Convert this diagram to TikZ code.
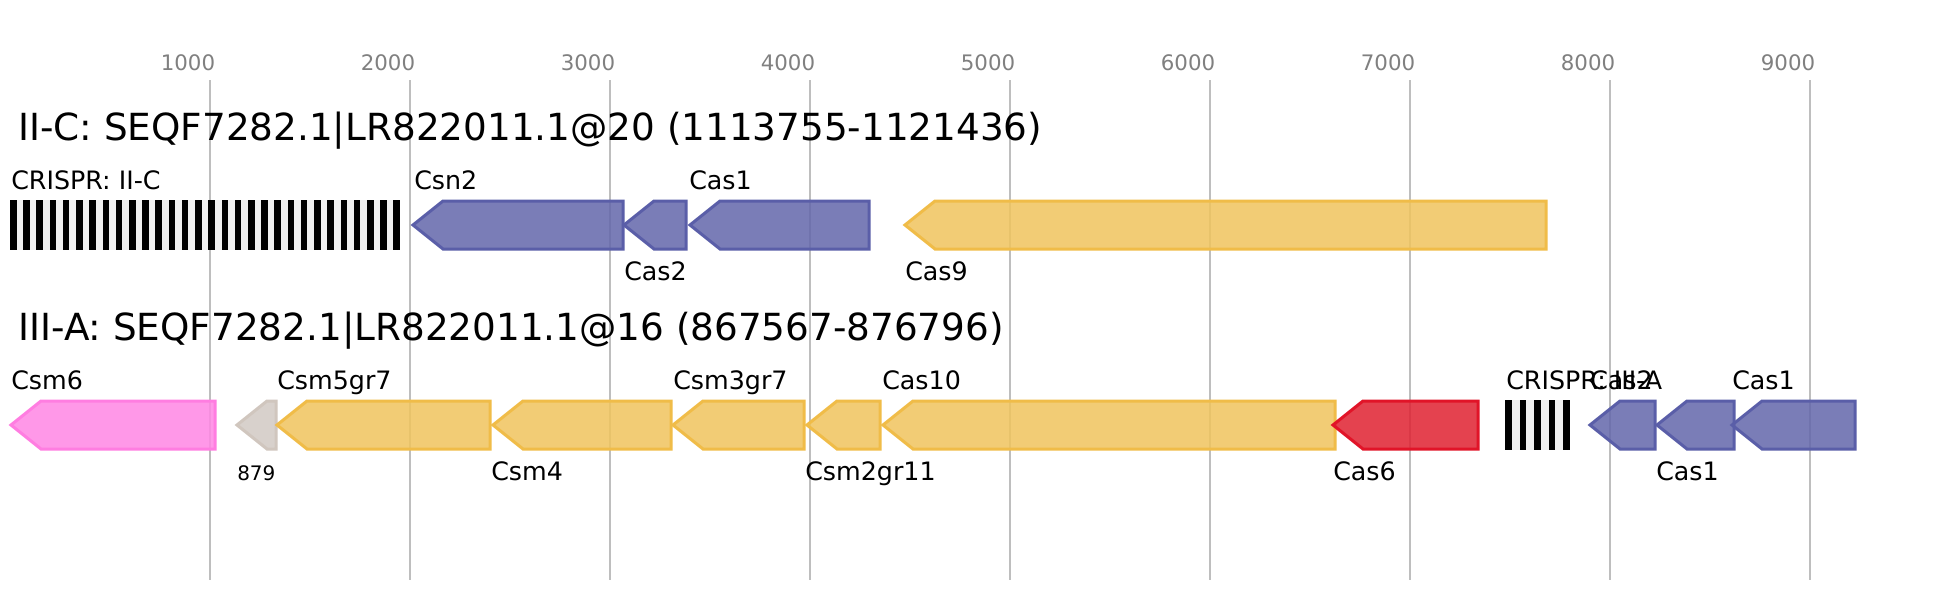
\documentclass[tikz,border=0pt]{standalone}
\usepackage{fontspec}
\setmainfont{DejaVu Sans}
\definecolor{gridc}{RGB}{190,190,190}
\definecolor{tickc}{RGB}{128,128,128}
\definecolor{bluef}{RGB}{99,103,171}
\definecolor{blued}{RGB}{90,94,168}
\definecolor{yellf}{RGB}{240,196,93}
\definecolor{yelld}{RGB}{240,188,72}
\definecolor{pinkf}{RGB}{255,135,228}
\definecolor{pinkd}{RGB}{255,125,225}
\definecolor{redf}{RGB}{224,33,49}
\definecolor{redd}{RGB}{225,20,40}
\definecolor{beigef}{RGB}{210,202,196}
\definecolor{beiged}{RGB}{208,198,190}
\definecolor{crbg}{RGB}{240,240,240}
\newcommand{\genearrow}[4]{%
  \draw[#4] (#1,#3) -- ({#1+30},{#3-24}) -- (#2,{#3-24}) -- (#2,{#3+24}) -- ({#1+30},{#3+24}) -- cycle;}
\begin{document}
\begin{tikzpicture}[x=0.75pt,y=-0.75pt,
  gridline/.style={draw=gridc,line width=1.5pt},
  ticklabel/.style={anchor=base,inner sep=0,text=tickc,font=\fontsize{16}{19}\selectfont},
  title/.style={anchor=base west,inner sep=0,font=\fontsize{28}{33}\selectfont},
  glabel/.style={anchor=base west,inner sep=0,font=\fontsize{19}{23}\selectfont},
  slabel/.style={anchor=base west,inner sep=0,font=\fontsize{15}{18}\selectfont},
  genebase/.style={line width=2.25pt,line join=miter,fill opacity=0.85},
  bluegene/.style={genebase,fill=bluef,draw=blued},
  yellgene/.style={genebase,fill=yellf,draw=yelld},
  pinkgene/.style={genebase,fill=pinkf,draw=pinkd},
  redgene/.style={genebase,fill=redf,draw=redd},
  beigegene/.style={genebase,fill=beigef,draw=beiged}]
\useasboundingbox (0,0) rectangle (1946,600);
\fill[white] (0,0) rectangle (1946,600);
% grid
\foreach \v/\lab in {1000/t1,2000/t2,3000/t3,4000/t4,5000/t5,6000/t6,7000/t7,8000/t8,9000/t9}{
  \draw[gridline] ({10+\v/5},80) -- ({10+\v/5},580);
  \node[ticklabel] (\lab) at ({10+\v/5-22},70) {\v};
}
% titles
\node[title] (title1) at (18,140) {II-C: SEQF7282.1|LR822011.1@20 (1113755-1121436)};
\node[title] (title2) at (18,340) {III-A: SEQF7282.1|LR822011.1@16 (867567-876796)};
% row 1
\fill[crbg] (10,200) rectangle (400,250);
\foreach \i in {0,...,29}{\fill[black] ({10+\i*13.22},200) rectangle ({16.6+\i*13.22},250);}
\genearrow{413}{623}{225}{bluegene}
\genearrow{624}{686}{225}{bluegene}
\genearrow{690}{869}{225}{bluegene}
\genearrow{905}{1546}{225}{yellgene}
\node[glabel] (l1) at (11,189) {CRISPR: II-C};
\node[glabel] (l2) at (414,189) {Csn2};
\node[glabel] (l3) at (624,280) {Cas2};
\node[glabel] (l4) at (689,189) {Cas1};
\node[glabel] (l5) at (905,280) {Cas9};
% row 2
\genearrow{11}{215}{425}{pinkgene}
\genearrow{237}{276}{425}{beigegene}
\genearrow{277}{490}{425}{yellgene}
\genearrow{493}{671}{425}{yellgene}
\genearrow{673}{804}{425}{yellgene}
\genearrow{807}{880}{425}{yellgene}
\genearrow{883}{1335}{425}{yellgene}
\genearrow{1333}{1478}{425}{redgene}
\fill[crbg] (1505,400) rectangle (1570,450);
\foreach \i in {0,...,4}{\fill[black] ({1505+\i*14.6},400) rectangle ({1511.6+\i*14.6},450);}
\genearrow{1590}{1655}{425}{bluegene}
\genearrow{1657}{1734}{425}{bluegene}
\genearrow{1732}{1855}{425}{bluegene}
\node[glabel] (m1) at (11,389) {Csm6};
\node[slabel] (m2) at (237,480) {879};
\node[glabel] (m3) at (277,389) {Csm5gr7};
\node[glabel] (m4) at (491,480) {Csm4};
\node[glabel] (m5) at (673,389) {Csm3gr7};
\node[glabel] (m6) at (805,480) {Csm2gr11};
\node[glabel] (m7) at (882,389) {Cas10};
\node[glabel] (m8) at (1333,480) {Cas6};
\node[glabel] (m9) at (1506,389) {CRISPR: III-A};
\node[glabel] (m10) at (1590,389) {Cas2};
\node[glabel] (m11) at (1656,480) {Cas1};
\node[glabel] (m12) at (1732,389) {Cas1};
\end{tikzpicture}
\end{document}
